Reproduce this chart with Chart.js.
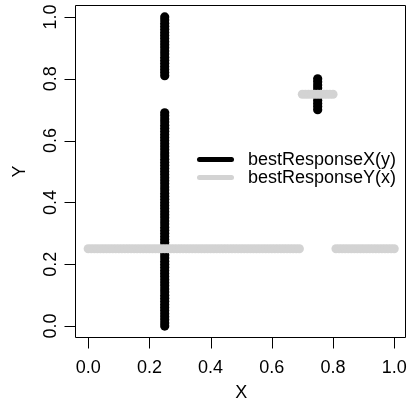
<!DOCTYPE html>
<html>
<head>
<meta charset="utf-8">
<script src="https://cdn.jsdelivr.net/npm/chart.js@4/dist/chart.umd.min.js"></script>
<style>
html,body{margin:0;padding:0;background:#fff;}
canvas{display:block;}
</style>
</head>
<body>
<canvas id="c" width="411" height="406" style="width:411px;height:406px"></canvas>
<script>
// probability grid (shared by both best-response curves)
const gridVals = [
  0.00,0.01,0.02,0.03,0.04,0.05,0.06,0.07,0.08,0.09,
  0.10,0.11,0.12,0.13,0.14,0.15,0.16,0.17,0.18,0.19,
  0.20,0.21,0.22,0.23,0.24,0.25,0.26,0.27,0.28,0.29,
  0.30,0.31,0.32,0.33,0.34,0.35,0.36,0.37,0.38,0.39,
  0.40,0.41,0.42,0.43,0.44,0.45,0.46,0.47,0.48,0.49,
  0.50,0.51,0.52,0.53,0.54,0.55,0.56,0.57,0.58,0.59,
  0.60,0.61,0.62,0.63,0.64,0.65,0.66,0.67,0.68,0.69,
  0.70,0.71,0.72,0.73,0.74,0.75,0.76,0.77,0.78,0.79,
  0.80,0.81,0.82,0.83,0.84,0.85,0.86,0.87,0.88,0.89,
  0.90,0.91,0.92,0.93,0.94,0.95,0.96,0.97,0.98,0.99,
  1.00
];
// bestResponseX(y): X value for each y in gridVals
const bestResponseX = [
  0.25,0.25,0.25,0.25,0.25,0.25,0.25,0.25,0.25,0.25,
  0.25,0.25,0.25,0.25,0.25,0.25,0.25,0.25,0.25,0.25,
  0.25,0.25,0.25,0.25,0.25,0.25,0.25,0.25,0.25,0.25,
  0.25,0.25,0.25,0.25,0.25,0.25,0.25,0.25,0.25,0.25,
  0.25,0.25,0.25,0.25,0.25,0.25,0.25,0.25,0.25,0.25,
  0.25,0.25,0.25,0.25,0.25,0.25,0.25,0.25,0.25,0.25,
  0.25,0.25,0.25,0.25,0.25,0.25,0.25,0.25,0.25,0.25,
  0.75,0.75,0.75,0.75,0.75,0.75,0.75,0.75,0.75,0.75,
  0.75,0.25,0.25,0.25,0.25,0.25,0.25,0.25,0.25,0.25,
  0.25,0.25,0.25,0.25,0.25,0.25,0.25,0.25,0.25,0.25,
  0.25
];
// bestResponseY(x): Y value for each x in gridVals
const bestResponseY = [
  0.25,0.25,0.25,0.25,0.25,0.25,0.25,0.25,0.25,0.25,
  0.25,0.25,0.25,0.25,0.25,0.25,0.25,0.25,0.25,0.25,
  0.25,0.25,0.25,0.25,0.25,0.25,0.25,0.25,0.25,0.25,
  0.25,0.25,0.25,0.25,0.25,0.25,0.25,0.25,0.25,0.25,
  0.25,0.25,0.25,0.25,0.25,0.25,0.25,0.25,0.25,0.25,
  0.25,0.25,0.25,0.25,0.25,0.25,0.25,0.25,0.25,0.25,
  0.25,0.25,0.25,0.25,0.25,0.25,0.25,0.25,0.25,0.25,
  0.75,0.75,0.75,0.75,0.75,0.75,0.75,0.75,0.75,0.75,
  0.75,0.25,0.25,0.25,0.25,0.25,0.25,0.25,0.25,0.25,
  0.25,0.25,0.25,0.25,0.25,0.25,0.25,0.25,0.25,0.25,
  0.25
];
const tickVals = [0, 0.2, 0.4, 0.6, 0.8, 1.0];
const tickLabels = ['0.0', '0.2', '0.4', '0.6', '0.8', '1.0'];
const seriesNames = ['bestResponseX(y)', 'bestResponseY(x)'];
const seriesColors = ['#000000', '#d3d3d3'];
const axisTitles = { x: 'X', y: 'Y' };

const FONT = "'Liberation Sans', Arial, Helvetica, sans-serif";
Chart.defaults.color = '#000';
Chart.defaults.font.family = FONT;
Chart.defaults.font.size = 18;

const blackPts = gridVals.map((y, i) => ({ x: bestResponseX[i], y: y }));
const greyPts = gridVals.map((x, i) => ({ x: x, y: bestResponseY[i] }));

const setTicks = (scale) => { scale.ticks = tickVals.map(v => ({ value: v })); };
const fmt = (v) => { const i = tickVals.indexOf(v); return i >= 0 ? tickLabels[i] : ''; };

const boxPlugin = {
  id: 'box',
  afterDraw(chart) {
    const { ctx, chartArea: a } = chart;
    const xs = chart.scales.x, ys = chart.scales.y;
    ctx.save();
    ctx.strokeStyle = '#000000';
    ctx.lineWidth = 1;
    const L = Math.round(a.left) - 0.5, R = Math.round(a.right) - 0.5;
    const T = Math.round(a.top) + 0.5, B = Math.round(a.bottom) - 0.5;
    ctx.beginPath();
    ctx.moveTo(L, T); ctx.lineTo(R, T); ctx.lineTo(R, B); ctx.lineTo(L, B); ctx.closePath();
    ctx.stroke();
    // axis tick marks (R style, outward)
    ctx.beginPath();
    tickVals.forEach(v => {
      const px = Math.round(xs.getPixelForValue(v)) + 0.5;
      ctx.moveTo(px, B); ctx.lineTo(px, B + 11);
      const py = Math.round(ys.getPixelForValue(v)) + 0.5;
      ctx.moveTo(L, py); ctx.lineTo(L - 11, py);
    });
    ctx.stroke();
    ctx.restore();
  }
};

const legendPlugin = {
  id: 'rlegend',
  afterDraw(chart) {
    const { ctx } = chart;
    ctx.save();
    const x0 = 199.5, x1 = 231.5, tx = 248;
    const ys = [159.5, 177.5];
    ctx.lineCap = 'round';
    ctx.lineWidth = 5;
    ctx.font = "18px " + FONT;
    ctx.textBaseline = 'middle';
    ctx.textAlign = 'left';
    seriesNames.forEach((name, i) => {
      ctx.strokeStyle = seriesColors[i];
      ctx.beginPath();
      ctx.moveTo(x0, ys[i]);
      ctx.lineTo(x1, ys[i]);
      ctx.stroke();
      ctx.fillStyle = '#000';
      ctx.fillText(name, tx, ys[i] + 1);
    });
    ctx.restore();
  }
};

new Chart(document.getElementById('c'), {
  type: 'scatter',
  data: {
    datasets: [
      { label: seriesNames[0], data: blackPts, order: 2,
        backgroundColor: seriesColors[0], borderWidth: 0, pointRadius: 4.6, pointHoverRadius: 4.6 },
      { label: seriesNames[1], data: greyPts, order: 1,
        backgroundColor: seriesColors[1], borderWidth: 0, pointRadius: 4.6, pointHoverRadius: 4.6 }
    ]
  },
  options: {
    responsive: false,
    animation: false,
    devicePixelRatio: 1,
    events: [],
    layout: { padding: { top: 3.3, right: 0.5, left: 0, bottom: 0 } },
    plugins: { legend: { display: false }, tooltip: { enabled: false } },
    scales: {
      x: {
        type: 'linear', min: -0.04, max: 1.04,
        afterBuildTicks: setTicks,
        afterFit: (s) => { s.height = 67.6; s.paddingLeft = 0; s.paddingRight = 0; },
        ticks: { callback: fmt, padding: 9, maxRotation: 0, minRotation: 0, autoSkip: false },
        grid: { display: false, drawOnChartArea: false, drawTicks: true, tickLength: 10, color: '#000', lineWidth: 1 },
        border: { display: false },
        title: { display: true, text: axisTitles.x, padding: { top: 0, bottom: 2 } }
      },
      y: {
        type: 'linear', min: -0.04, max: 1.04,
        afterBuildTicks: setTicks,
        afterFit: (s) => { s.width = 76; s.paddingTop = 0; s.paddingBottom = 0; },
        ticks: { callback: fmt, padding: 2, minRotation: 90, maxRotation: 90, crossAlign: 'center', autoSkip: false },
        grid: { display: false, drawOnChartArea: false, drawTicks: true, tickLength: 10, color: '#000', lineWidth: 1 },
        border: { display: false },
        title: { display: true, text: axisTitles.y, padding: { top: 9, bottom: 0 } }
      }
    }
  },
  plugins: [boxPlugin, legendPlugin]
});
</script>
</body>
</html>
